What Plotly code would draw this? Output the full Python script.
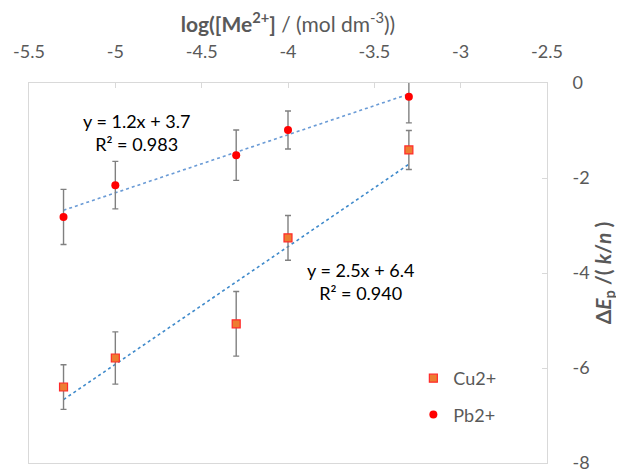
import numpy as np
import plotly.graph_objects as go

# data
x_vals = [-5.3, -5.0, -4.3, -4.0, -3.3]
cu_y = [-6.40, -5.79, -5.07, -3.26, -1.41]
cu_err = [0.47, 0.55, 0.68, 0.47, 0.41]
pb_y = [-2.82, -2.15, -1.52, -0.99, -0.29]
pb_err = [0.58, 0.50, 0.53, 0.40, 0.55]
x_ticks = [-5.5, -5, -4.5, -4, -3.5, -3, -2.5]
y_ticks = [0, -2, -4, -6, -8]
pb_eq = "y = 1.2x + 3.7<br>R² = 0.983"
cu_eq = "y = 2.5x + 6.4<br>R² = 0.940"

FONT = "Lato, 'Open Sans', sans-serif"
GRAY = "#595959"

fig = go.Figure()

# trendlines (least squares fits of the data)
for ys, col in [(pb_y, "#6A9BD6"), (cu_y, "#3F8ACB")]:
    m, b = np.polyfit(x_vals, ys, 1)
    xs = [x_vals[0], x_vals[-1]]
    fig.add_trace(go.Scatter(x=xs, y=[m * v + b for v in xs], mode="lines",
                             line=dict(color=col, width=1.6, dash="dot"),
                             showlegend=False, hoverinfo="skip"))

fig.add_trace(go.Scatter(
    x=x_vals, y=cu_y, mode="markers", name="Cu2+", legendgroup="a",
    marker=dict(symbol="square", size=8, color="#ED7D31",
                line=dict(color="#FF2A2A", width=1.2)),
    error_y=dict(type="data", array=cu_err, color="#808080", thickness=1.4, width=3)))
fig.add_trace(go.Scatter(
    x=x_vals, y=pb_y, mode="markers", name="Pb2+", legendgroup="b",
    marker=dict(symbol="circle", size=8, color="#FF0000"),
    error_y=dict(type="data", array=pb_err, color="#808080", thickness=1.4, width=3)))

fig.add_annotation(x=-4.88, y=-1.04, xref="x", yref="y", text=pb_eq, showarrow=False,
                   font=dict(family=FONT, size=18, color="#000000"), align="center")
fig.add_annotation(x=-3.58, y=-4.18, xref="x", yref="y", text=cu_eq, showarrow=False,
                   font=dict(family=FONT, size=18, color="#000000"), align="center")

fig.update_layout(
    width=624, height=469,
    margin=dict(l=21, r=85, t=75, b=14),
    paper_bgcolor="white", plot_bgcolor="white",
    font=dict(family=FONT, size=18, color=GRAY),
    legend=dict(x=0.742, y=0.271, xanchor="left", yanchor="top",
                font=dict(size=18, color=GRAY), tracegroupgap=10,
                bgcolor="rgba(0,0,0,0)", itemwidth=30),
    xaxis=dict(side="top", range=[-5.5, -2.5], tickvals=x_ticks,
               ticktext=[f"{v:g}" for v in x_ticks], automargin=False,
               showgrid=False, zeroline=False, showline=True, mirror=True,
               linecolor="#D9D9D9", linewidth=1, ticks="inside", ticklen=5,
               tickcolor="#D9D9D9", ticklabelstandoff=17,
               tickfont=dict(size=18, color=GRAY),
               title=dict(text="<b>log([Me<sup>2+</sup>]</b> / (mol dm<sup>-3</sup>))",
                          font=dict(size=21, color=GRAY), standoff=14)),
    yaxis=dict(side="right", range=[-8, 0], tickvals=y_ticks,
               ticktext=[f"{v:g}" for v in y_ticks], automargin=False,
               ticklabeloverflow="allow",
               showgrid=False, zeroline=False, showline=True, mirror=True,
               linecolor="#D9D9D9", linewidth=1, ticks="inside", ticklen=5,
               tickcolor="#D9D9D9", ticklabelstandoff=21,
               tickfont=dict(size=18, color=GRAY),
               title=dict(text="<b>Δ<i>E</i><sub>p</sub> /( <i>k</i>/<i>n</i> )</b>",
                          font=dict(size=21, color=GRAY), standoff=1)),
)

fig.write_html("out.html")
